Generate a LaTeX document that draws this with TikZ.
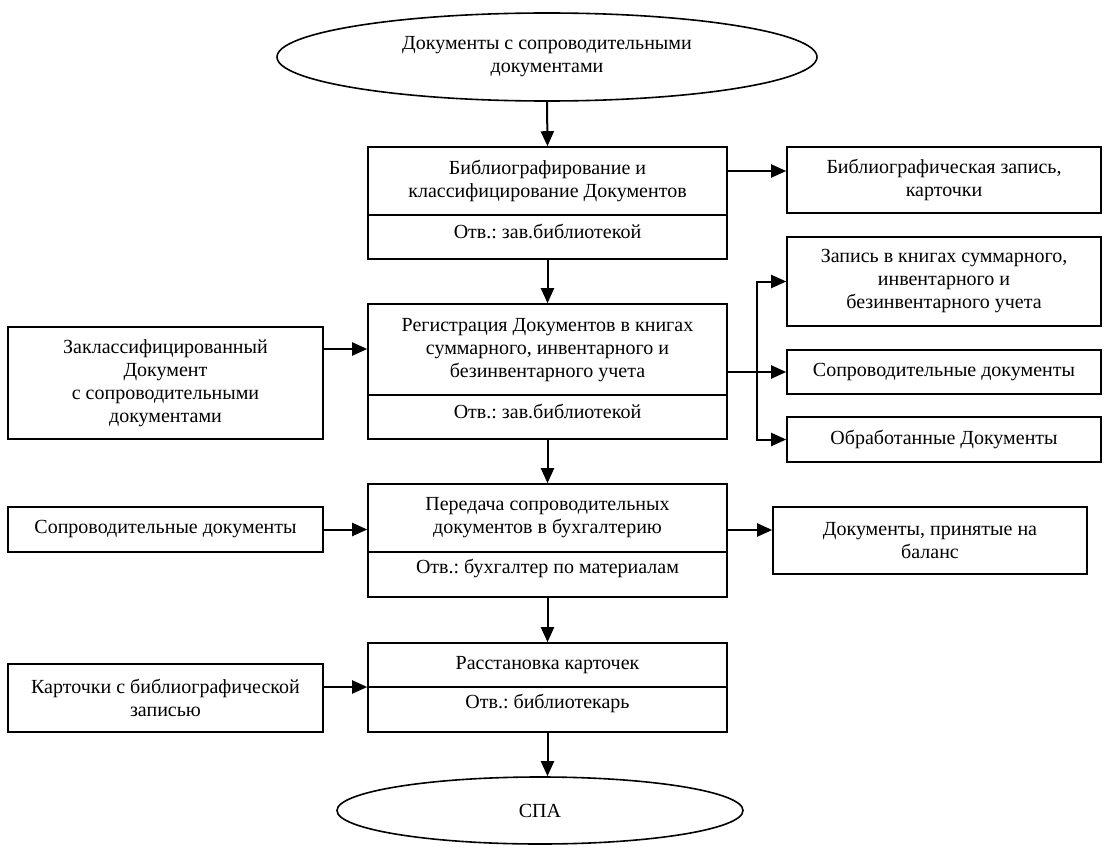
\documentclass[tikz,border=0pt]{standalone}
\usepackage{fontspec}
\setmainfont{Liberation Serif}
\usetikzlibrary{shapes.geometric,arrows.meta}
\frenchspacing
\begin{document}
\begin{tikzpicture}[x=1pt,y=-1pt,
  every node/.style={font=\fontsize{20}{23}\selectfont, align=center, inner sep=0pt},
  box/.style={draw, line width=1.6pt, rectangle},
  ell/.style={draw, line width=1.6pt, ellipse},
  txt/.style={},
  divline/.style={line width=1.6pt},
  conn/.style={line width=2pt},
  arr/.style={line width=2pt, -{Triangle[length=15pt,width=13pt]}}
]
\useasboundingbox (0,0) rectangle (1109,851);

% ellipses
\node[ell, minimum width=540, minimum height=88] (start) at (547,57) {Документы с сопроводительными\\документами};
\node[ell, minimum width=406, minimum height=67] (spa) at (540,810.5) {СПА};

% central boxes
\node[box, minimum width=359, minimum height=112] (A) at (547.5,203) {};
\draw[divline] (A.west |- 0,215) -- (A.east |- 0,215);
\node[txt] (At) at (547.5,181) {Библиографирование и\\классифицирование Документов};
\node[txt] (Ar) at (547.5,231) {Отв.: зав.библиотекой};

\node[box, minimum width=359, minimum height=135] (C) at (547.5,371.5) {};
\draw[divline] (C.west |- 0,395) -- (C.east |- 0,395);
\node[txt] (Ct) at (547.5,350) {Регистрация Документов в книгах\\суммарного, инвентарного и\\безинвентарного учета};
\node[txt] (Cr) at (547.5,411) {Отв.: зав.библиотекой};

\node[box, minimum width=359, minimum height=113] (H) at (547.5,540.5) {};
\draw[divline] (H.west |- 0,552) -- (H.east |- 0,552);
\node[txt] (Ht) at (547.5,518) {Передача сопроводительных\\документов в бухгалтерию};
\node[txt] (Hr) at (547.5,568) {Отв.: бухгалтер по материалам};

\node[box, minimum width=359, minimum height=89] (K) at (547.5,687.5) {};
\draw[divline] (K.west |- 0,687) -- (K.east |- 0,687);
\node[txt] (Kt) at (547.5,665) {Расстановка карточек};
\node[txt] (Kr) at (547.5,703) {Отв.: библиотекарь};

% right boxes
\node[box, minimum width=314, minimum height=66] (B) at (944,180) {Библиографическая запись,\\карточки};
\node[box, minimum width=314, minimum height=89] (D) at (944,281.5) {Запись в книгах суммарного,\\инвентарного и\\безинвентарного учета};
\node[box, minimum width=314, minimum height=44] (E) at (944,372) {Сопроводительные документы};
\node[box, minimum width=314, minimum height=45] (F) at (944,439.5) {Обработанные Документы};
\node[box, minimum width=314, minimum height=67] (J) at (930,540.5) {Документы, принятые на\\баланс};

% left boxes
\node[box, minimum width=315, minimum height=112] (G) at (165.5,383) {Заклассифицированный\\Документ\\с сопроводительными\\документами};
\node[box, minimum width=315, minimum height=45] (I) at (165.5,529.5) {Сопроводительные документы};
\node[box, minimum width=315, minimum height=68] (L) at (165.5,698) {Карточки с библиографической\\записью};

% connectors
\draw[arr] (start.south) -- (A.north);
\draw[arr] (A.east |- 0,171) -- (B.west |- 0,171);
\draw[arr] (A.south) -- (C.north);
\draw[arr] (G.east |- 0,349) -- (C.west |- 0,349);
\coordinate (j) at (757,372);
\draw[conn] (C.east |- j) -- (j);
\draw[arr] (j) -- (E.west);
\draw[arr] (j) |- (D.west);
\draw[arr] (j) |- (F.west);
\draw[arr] (C.south) -- (H.north);
\draw[arr] (I.east) -- (H.west |- I.east);
\draw[arr] (H.east |- 0,530) -- (J.west |- 0,530);
\draw[arr] (H.south) -- (K.north);
\draw[arr] (L.east |- 0,687) -- (K.west |- 0,687);
\draw[arr] (K.south) -- (K.south |- spa.north);
\end{tikzpicture}
\end{document}
